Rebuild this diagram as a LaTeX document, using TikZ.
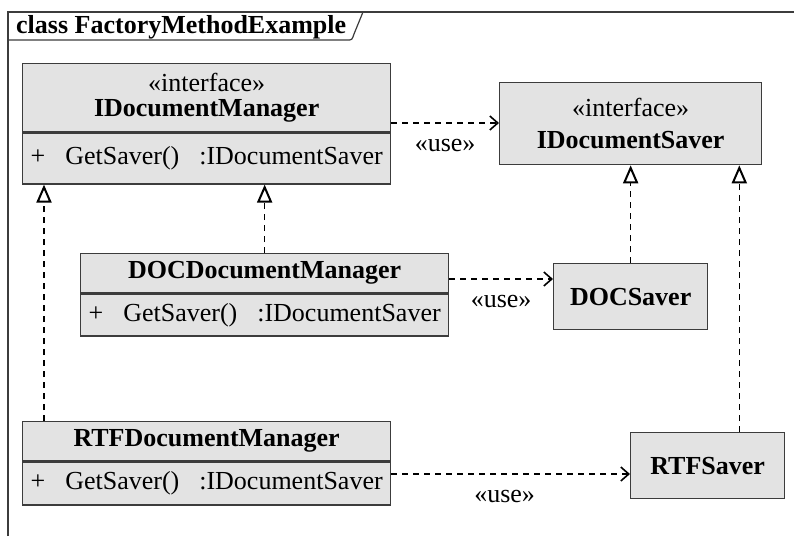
\documentclass[tikz,border=0pt]{standalone}
\usepackage{fontspec}
\setmainfont{Liberation Serif}
\usetikzlibrary{
  arrows.meta,
  positioning
}

\definecolor{umlfill}{RGB}{227,227,227}
\definecolor{umlline}{RGB}{60,60,60}

\begin{document}
\begin{tikzpicture}[
  x = 1pt, y = -1pt,
  % ── Class compartment ───────────────────────────────────
  clsbox/.style={
    rectangle,
    draw         = umlline,
    line width   = 1.3pt,
    fill         = umlfill,
    anchor       = north west,
    inner sep    = 0pt,
    align        = center,
    font         = \fontsize{26}{30}\selectfont
  },
  % ── Dependency arrow («use») ────────────────────────────
  usearr/.style={
    -{Straight Barb[length=8pt, width=14pt, line width=1.6pt]},
    draw         = black,
    line width   = 1.3pt,
    dash pattern = on 6pt off 5pt
  },
  % ── Realization arrow ───────────────────────────────────
  realarr/.style={
    -{Triangle[open, length=18pt, width=15pt, line width=2pt]},
    draw         = black,
    line width   = 1.3pt,
    dash pattern = on 6pt off 5pt
  },
  % ── Connector label ─────────────────────────────────────
  uselbl/.style={
    font   = \fontsize{26}{30}\selectfont,
    yshift = -22pt
  }
]
\useasboundingbox (0,0) rectangle (794,536);

% ── Frame ──────────────────────────────────────────────────
\draw[umlline, line width=1.4pt] (8,536) -- (8,12) -- (794,12);
\draw[umlline, line width=1.2pt]
  (8,40) -- (347,40) .. controls (352,40) .. (354,34) -- (363,12);
\node[anchor=base west, inner sep=0pt,
      font=\fontsize{26}{30}\selectfont\bfseries] (title) at (16,33)
  {class FactoryMethodExample};

% ── Classes ────────────────────────────────────────────────
\node[clsbox, minimum width=368pt, minimum height=68pt] (idm) at (22,63)
  {«interface»\\[-5pt]\textbf{IDocumentManager}};
\node[clsbox, minimum width=368pt, minimum height=51pt, below=0pt of idm] (idmops)
  {+\hspace{20pt}GetSaver()\hspace{20pt}:IDocumentSaver};

\node[clsbox, minimum width=262pt, minimum height=82pt] (ids) at (499,82)
  {«interface»\\[2pt]\textbf{IDocumentSaver}};

\node[clsbox, minimum width=368pt, minimum height=39pt] (dcm) at (80,253)
  {\textbf{DOCDocumentManager}};
\node[clsbox, minimum width=368pt, minimum height=42pt, below=0pt of dcm] (dcmops)
  {+\hspace{20pt}GetSaver()\hspace{20pt}:IDocumentSaver};

\node[clsbox, minimum width=154pt, minimum height=66pt] (ds) at (553,263)
  {\textbf{DOCSaver}};

\node[clsbox, minimum width=368pt, minimum height=39pt] (rcm) at (22,421)
  {\textbf{RTFDocumentManager}};
\node[clsbox, minimum width=368pt, minimum height=43pt, below=0pt of rcm] (rcmops)
  {+\hspace{20pt}GetSaver()\hspace{20pt}:IDocumentSaver};

\node[clsbox, minimum width=154pt, minimum height=66pt] (rs) at (630,432)
  {\textbf{RTFSaver}};

% ── Dependencies ───────────────────────────────────────────
\coordinate (idsin) at ([yshift=-41pt]ids.north west);
\coordinate (dsin)  at ([yshift=-16pt]ds.north west);
\coordinate (rsin)  at ([yshift=-42pt]rs.north west);

\draw[usearr] (idsin -| idm.east) -- node[uselbl, midway] (use1) {«use»} (idsin);
\draw[usearr] (dsin -| dcm.east)  -- node[uselbl, midway] (use2) {«use»} (dsin);
\draw[usearr] (rsin -| rcm.east)  -- node[uselbl, midway, xshift=-6pt] (use3) {«use»} (rsin);

% ── Realizations ───────────────────────────────────────────
\coordinate (rcmtop) at ([xshift=22pt]rcm.north west);
\coordinate (rstop)  at ([xshift=-46pt]rs.north east);

\draw[realarr] (dcm.north) -- (dcm.north |- idmops.south);
\draw[realarr] (rcmtop)    -- (rcmtop |- idmops.south);
\draw[realarr] (ds.north)  -- (ds.north |- ids.south);
\draw[realarr] (rstop)     -- (rstop |- ids.south);

\end{tikzpicture}
\end{document}
